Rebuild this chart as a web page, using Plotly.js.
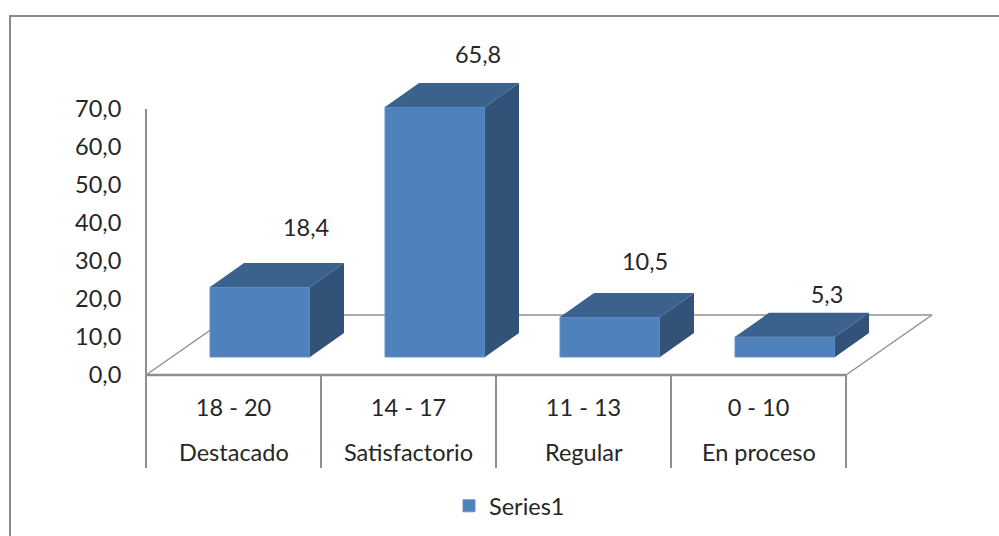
<!DOCTYPE html>
<html>
<head>
<meta charset="utf-8">
<script src="https://cdn.plot.ly/plotly-3.0.1.min.js"></script>
<style>html,body{margin:0;padding:0;background:#fff}#chart{width:999px;height:536px}</style>
</head>
<body>
<div id="chart"></div>
<script>
// Grade bands and the share of students in each one
const gradeRanges = ['18 - 20', '14 - 17', '11 - 13', '0 - 10'];
const gradeNames = ['Destacado', 'Satisfactorio', 'Regular', 'En proceso'];
const seriesValues = [18.4, 65.8, 10.5, 5.3];
const seriesName = 'Series1';
const axisTicks = [0, 10, 20, 30, 40, 50, 60, 70];

// Page geometry, in pixels
const W = 999, H = 536;
const plotLeft = 129, plotRight = 950, plotTop = 30, plotBottom = 534;
const originX = 146, originY = 375;
const pxPerCat = 175, pxPerUnit = 3.8;

const ux = px => px / pxPerCat;
const uy = px => px / pxPerUnit;
const paperX = px => (px - plotLeft) / (plotRight - plotLeft);
const paperY = py => (plotBottom - py) / (plotBottom - plotTop);

// Oblique projection used for the fake depth
const barCentre = ux(114), barWidth = ux(100), barBase = uy(18);
const depthX = ux(34), depthY = uy(24);
const floorDepthX = ux(86), floorDepthY = uy(60);

// Label placement relative to each bar's front top centre, in pixels
const labelShiftX = [46, 43, 35, 42];
const labelShiftY = [57, 50, 53, 40];

const centres = seriesValues.map((_, i) => i + barCentre);
const topX = [], topY = [], sideX = [], sideY = [];
seriesValues.forEach((v, i) => {
  const l = centres[i] - barWidth / 2, r = centres[i] + barWidth / 2;
  const b = barBase, t = barBase + v;
  topX.push(l, r, r + depthX, l + depthX, l, null);
  topY.push(t, t, t + depthY, t + depthY, t, null);
  sideX.push(r, r + depthX, r + depthX, r, r, null);
  sideY.push(b, b + depthY, t + depthY, t, b, null);
});

const face = (x, y, color) => ({
  type: 'scatter', mode: 'lines', x, y, fill: 'toself', fillcolor: color,
  line: {width: 0, color}, showlegend: false, hoverinfo: 'skip'
});

const textFont = {family: 'Lato, sans-serif', size: 23.5, color: '#262626'};

const traces = [
  face(sideX, sideY, '#325277'),
  face(topX, topY, '#3b618d'),
  {
    type: 'bar', name: seriesName, x: centres, y: seriesValues,
    base: seriesValues.map(() => barBase), width: barWidth,
    marker: {color: '#4f81bd', line: {color: '#6493cc', width: 1}}
  },
  {
    type: 'scatter', mode: 'text', showlegend: false, hoverinfo: 'skip',
    x: centres.map((c, i) => c + ux(labelShiftX[i])),
    y: seriesValues.map((v, i) => barBase + v + uy(labelShiftY[i])),
    text: seriesValues.map(v => v.toFixed(1).replace('.', ',')),
    textposition: 'middle center',
    textfont: textFont
  }
];

const gray = '#8f8f8f';
const seg = (x0, y0, x1, y1, width) => ({
  type: 'line', xref: 'x', yref: 'y', x0, y0, x1, y1, layer: 'below',
  line: {color: gray, width}
});
const shapes = [
  seg(0, 0, 4, 0, 2.5),
  seg(0, 0, floorDepthX, floorDepthY, 1.5),
  seg(floorDepthX, floorDepthY, 4 + floorDepthX, floorDepthY, 1.5),
  seg(4, 0, 4 + floorDepthX, floorDepthY, 1.5),
  seg(0, 0, 0, axisTicks[axisTicks.length - 1], 2)
];
// Dividers between the category groups below the floor
[0, 1, 2, 3, 4].forEach(i => shapes.push({
  type: 'line', xref: 'x', yref: 'paper', x0: i, x1: i,
  y0: paperY(originY), y1: paperY(468), line: {color: gray, width: 2}
}));
// Chart-area frame, open on the right and at the bottom
shapes.push({
  type: 'path', xref: 'paper', yref: 'paper', layer: 'below',
  path: `M ${paperX(10)} ${paperY(H)} L ${paperX(10)} ${paperY(16)} L ${paperX(W)} ${paperY(16)}`,
  line: {color: '#8a8a8a', width: 2}
});

const layout = {
  width: W, height: H,
  margin: {l: plotLeft, r: W - plotRight, t: plotTop, b: H - plotBottom, pad: 0},
  paper_bgcolor: '#fff', plot_bgcolor: 'rgba(0,0,0,0)',
  separators: ',.',
  showlegend: true,
  xaxis: {
    range: [ux(plotLeft - originX), ux(plotRight - originX)],
    anchor: 'free', position: paperY(originY),
    tickmode: 'array', tickvals: gradeRanges.map((_, i) => i + 0.5), ticktext: gradeRanges,
    showgrid: false, zeroline: false, showline: false,
    ticks: 'outside', ticklen: 12, tickcolor: 'rgba(0,0,0,0)', tickfont: textFont, fixedrange: true
  },
  yaxis: {
    range: [uy(originY - plotBottom), uy(originY - plotTop)],
    tickmode: 'array', tickvals: axisTicks, tickformat: '.1f',
    showgrid: false, zeroline: false, showline: false,
    ticks: 'outside', ticklen: 2, tickcolor: 'rgba(0,0,0,0)', tickfont: textFont, fixedrange: true
  },
  annotations: gradeNames.map((name, i) => ({
    xref: 'x', yref: 'paper', x: i + 0.5, y: paperY(452), text: name,
    showarrow: false, xanchor: 'center', yanchor: 'middle', font: textFont
  })),
  legend: {
    x: paperX(449), y: paperY(506), xanchor: 'left', yanchor: 'middle',
    font: textFont, bgcolor: 'rgba(0,0,0,0)', itemwidth: 30
  },
  shapes
};

Plotly.newPlot('chart', traces, layout, {displayModeBar: false, staticPlot: true});
</script>
</body>
</html>
